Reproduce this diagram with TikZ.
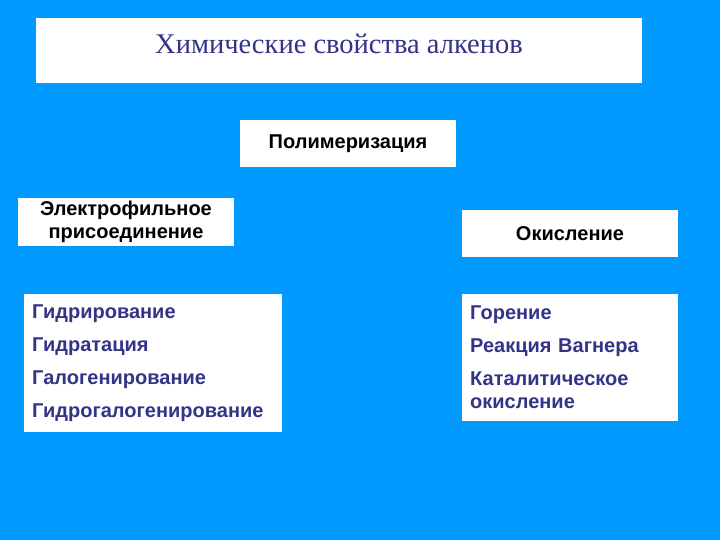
\documentclass[tikz,border=0pt]{standalone}
\usepackage{fontspec}
\setmainfont{Liberation Serif}
\setsansfont{Liberation Sans}
\usetikzlibrary{positioning, math}
\definecolor{slideblue}{HTML}{0099FF}
\definecolor{inkblue}{HTML}{333388}

\begin{document}
\begin{tikzpicture}[x=1pt, y=-1pt]
		\tikzmath{
			\boxW   = 216;  %width of the small boxes
			\boxH   = 47;   %height of the small boxes
		}
		\tikzstyle{Base} = [
			fill=white,
			inner sep=0pt,
			font=\sffamily\bfseries\fontsize{20}{24}\selectfont,
		]
		\tikzstyle{HeadBox} = [
			Base,
			align=center,
			minimum width=\boxW pt,
			minimum height=\boxH pt,
		]
		\tikzstyle{ListBox} = [
			Base,
			anchor=north west,
			align=left,
			text=inkblue,
			inner xsep=8pt,
			inner ysep=6pt,
			font=\sffamily\bfseries\fontsize{20}{24}\selectfont,
		]
		% background
		\fill [slideblue] (0,0) rectangle (720,540);
		\useasboundingbox (0,0) rectangle (720,540);
		%%%%%%%%%%%%%%%%%%%%===---TITLE---===%%%%%%%%%%%%%%%%%%%%
		\node (title) [Base, minimum width=606pt, minimum height=65pt, text depth=14pt,
			font=\rmfamily\fontsize{28.5}{32}\selectfont, text=inkblue]
			at (339,50.5) {Химические свойства алкенов};
		%%%%%%%%%%%%%%%%%%%%===---HEADERS---===%%%%%%%%%%%%%%%%%%%%
		\node (poly) [HeadBox] at (348,143.5) {Полимеризация};
		\node (elec) [HeadBox] at (126,222) {Электрофильное\\[-1pt]присоединение};
		\node (oxid) [HeadBox] at (570,233.5) {Окисление};
		%%%%%%%%%%%%%%%%%%%%===---LISTS---===%%%%%%%%%%%%%%%%%%%%
		\node (addlist) [ListBox, minimum width=258pt, minimum height=138pt,
			text width=242pt] at (24,294)
			{Гидрирование\\[9pt]Гидратация\\[9pt]Галогенирование\\[9pt]Гидрогалогенирование};
		\node (oxlist) [ListBox, minimum width=216pt, minimum height=127pt,
			text width=200pt] at (462,294)
			{Горение\\[9pt]Реакция Вагнера\\[9pt]Каталитическое\\[-1pt]окисление};
	\end{tikzpicture}
\end{document}
